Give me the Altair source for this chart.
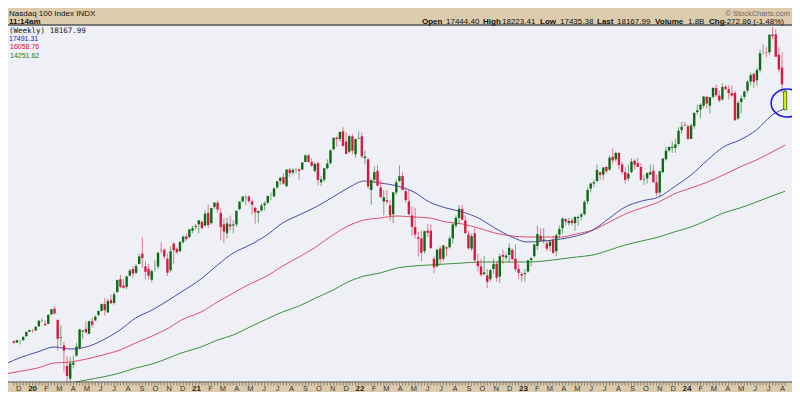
import altair as alt
import pandas as pd

# ---------------- data (weekly OHLC, Nasdaq 100) ----------------
ohlc_2019 = [
    (8370, 8390, 8270, 8310), (8320, 8420, 8300, 8403), (8400, 8420, 8240, 8400),
    (8410, 8560, 8380, 8535), (8560, 8740, 8550, 8735), (8740, 8820, 8730, 8808),
    (8800, 8850, 8700, 8793),
]
ohlc_2020 = [
    (8790, 8950, 8770, 8933), (8950, 9180, 8940, 9174), (9180, 9260, 9100, 9188), (9050, 9190, 8980, 8992),
    (9050, 9420, 9030, 9401), (9420, 9620, 9400, 9623), (9640, 9736, 9480, 9447), (9200, 9230, 8000, 8462),
    (8500, 9000, 8200, 8530), (8200, 8350, 7150, 7995), (7400, 7800, 6771, 7000), (6900, 7750, 6780, 7502),
    (7450, 7800, 7300, 7528), (7800, 8300, 7760, 8153), (8100, 8850, 8050, 8833), (8750, 8800, 8450, 8788),
    (8850, 9150, 8690, 8718), (8660, 9170, 8660, 9152), (9150, 9300, 8900, 9014), (9180, 9390, 9170, 9325),
    (9400, 9560, 9340, 9555), (9560, 9850, 9540, 9824), (9830, 10060, 9370, 9589), (9500, 10050, 9470, 9946),
    (9980, 10190, 9850, 9850), (9870, 10300, 9800, 10208), (10300, 10790, 10260, 10768), (10800, 10970, 10450, 10503),
    (10550, 10800, 10430, 10461), (10500, 10940, 10400, 10905), (10940, 11200, 10900, 11139), (11200, 11300, 10850, 11019),
    (11050, 11400, 11000, 11311), (11400, 11800, 11380, 11695), (11800, 12439, 11250, 11626), (11300, 11500, 10800, 11088),
    (11200, 11400, 10800, 10937), (10780, 11180, 10677, 11117), (11250, 11550, 11100, 11255), (11300, 11900, 11200, 11829),
    (11950, 12250, 11800, 11933), (11950, 12000, 11600, 11687), (11600, 11800, 10930, 11053), (11150, 12080, 11070, 11895),
    (12200, 12200, 11400, 11937), (11990, 12050, 11800, 11854), (11900, 12300, 11850, 12258), (12250, 12528, 12200, 12465),
    (12480, 12590, 12300, 12378), (12450, 12760, 12400, 12755), (12700, 12900, 12600, 12804), (12850, 12960, 12750, 12888),
]
ohlc_2021 = [
    (12950, 13130, 12600, 13105), (13050, 13100, 12760, 12803), (12900, 13500, 12880, 13366), (13400, 13728, 12800, 12925),
    (13000, 13600, 12950, 13592), (13630, 13800, 13550, 13807), (13800, 13880, 13400, 13530), (13400, 13580, 12330, 12842),
    (12950, 13200, 12210, 12668), (12600, 13200, 12400, 12990), (12950, 13300, 12700, 12870), (12900, 13100, 12600, 12943),
    (12950, 13500, 12850, 13480), (13550, 13850, 13500, 13845), (13850, 14050, 13800, 14041), (14000, 14100, 13700, 14016),
    (14040, 14100, 13800, 13860), (13850, 13900, 13350, 13720), (13600, 13650, 12980, 13430), (13400, 13500, 13000, 13470),
    (13500, 13780, 13450, 13687), (13700, 13850, 13500, 13774), (13800, 14050, 13750, 14069), (14100, 14200, 13900, 14100),
    (14050, 14400, 14000, 14360), (14400, 14650, 14350, 14640), (14650, 14800, 14500, 14780), (14800, 14950, 14500, 14550),
    (14450, 15120, 14400, 15100), (15100, 15150, 14800, 14960), (14980, 15150, 14900, 15090), (15100, 15150, 14950, 15110),
    (15100, 15170, 14700, 15039), (15100, 15400, 15080, 15374), (15400, 15700, 15380, 15653), (15660, 15700, 15400, 15390),
    (15400, 15550, 15200, 15250), (15050, 15400, 14980, 15317), (15350, 15400, 14480, 14689), (14600, 14850, 14450, 14715),
    (14700, 15160, 14620, 15152), (15150, 15500, 15100, 15335), (15350, 15900, 15300, 15850), (15900, 16350, 15850, 16345),
    (16350, 16400, 16000, 16300), (16300, 16600, 16200, 16573), (16600, 16765, 16000, 16025), (16200, 16550, 15750, 15712),
    (15800, 16450, 15750, 16410), (16400, 16500, 15700, 15840), (15700, 16300, 15560, 16300), (16300, 16600, 16300, 16320),
]
ohlc_2022 = [
    (16400, 16550, 15550, 15616), (15550, 15850, 15300, 15612), (15500, 15560, 14330, 14438), (14300, 14740, 13724, 14680),
    (14700, 15220, 14600, 14997), (15050, 15280, 14500, 14464), (14400, 14700, 14000, 14017), (13850, 14300, 13300, 14010),
    (13900, 14300, 13750, 13838), (13700, 13900, 13100, 13301), (13350, 14220, 13000, 14207), (14200, 14700, 14100, 14600),
    (14650, 15265, 14600, 14840), (14850, 15000, 14300, 14300), (14250, 14400, 13800, 13900), (13850, 14300, 13300, 13350),
    (13300, 13650, 12500, 12855), (12850, 13600, 12400, 12550), (12450, 12650, 11690, 12386), (12400, 12700, 11500, 11835),
    (11900, 12700, 11800, 12681), (12700, 12950, 12450, 12617), (12700, 12950, 12000, 12016), (11600, 11700, 11037, 11265),
    (11300, 12000, 11300, 11950), (12000, 12100, 11400, 11580), (11600, 12150, 11500, 12125), (12050, 12100, 11700, 12000),
    (12050, 12500, 12000, 12397), (12400, 12990, 12200, 12947), (12900, 13300, 12800, 13208), (13200, 13700, 13000, 13560),
    (13550, 13720, 13100, 13130), (13100, 13300, 12600, 12602), (12550, 12700, 11950, 12013), (12000, 12600, 11900, 12489),
    (12600, 12800, 11500, 11543), (11500, 11800, 11100, 11311), (11300, 11600, 10900, 10971), (11000, 11700, 10950, 11067),
    (10950, 11200, 10440, 10692), (10800, 11200, 10700, 11154), (11200, 11600, 11000, 11400), (11400, 11500, 10700, 10857),
    (10900, 11800, 10650, 11700), (11750, 11950, 11400, 11677), (11650, 11850, 11550, 11726), (11750, 12200, 11450, 12031),
    (11950, 12000, 11550, 11583), (11600, 12170, 11100, 11190), (11200, 11400, 10800, 11050), (11000, 11100, 10700, 10939),
]
ohlc_2023 = [
    (11000, 11200, 10700, 11040), (11100, 11550, 11050, 11541), (11550, 11650, 11300, 11620), (11700, 12150, 11650, 12166),
    (12100, 12900, 11950, 12573), (12500, 12800, 12300, 12304), (12300, 12800, 12200, 12358), (12200, 12300, 11900, 11995),
    (12100, 12300, 11900, 12278), (12350, 12500, 11800, 11830), (11900, 12600, 11700, 12520), (12550, 12900, 12400, 12767),
    (12800, 13200, 12600, 13181), (13150, 13200, 12900, 13062), (13000, 13200, 12900, 13080), (13100, 13200, 12900, 13000),
    (13000, 13250, 12700, 13246), (13200, 13300, 12900, 13240), (13250, 13400, 13100, 13340), (13350, 13900, 13300, 13826),
    (13850, 14400, 13750, 14298), (14350, 14600, 14200, 14547), (14550, 14700, 14400, 14603), (14650, 15290, 14600, 15083),
    (15000, 15000, 14700, 14890), (14900, 15200, 14700, 15179), (15200, 15250, 14950, 15035), (15100, 15650, 15050, 15565),
    (15600, 15932, 15300, 15457), (15500, 15800, 15400, 15750), (15750, 15800, 15100, 15275), (15300, 15400, 14900, 14995),
    (15000, 15200, 14550, 14694), (14750, 15300, 14650, 14942), (15000, 15530, 14950, 15413), (15450, 15500, 15100, 15290),
    (15350, 15570, 15200, 15200), (15200, 15350, 14650, 14700), (14700, 14900, 14500, 14715), (14750, 15000, 14550, 14960),
    (14900, 15300, 14900, 15000), (15050, 15300, 14600, 14598), (14600, 14900, 14060, 14180), (14200, 15050, 14050, 15033),
    (15000, 15550, 14950, 15530), (15500, 16000, 15450, 15840), (15850, 16000, 15800, 15990), (15950, 16200, 15750, 15992),
    (15950, 16300, 15750, 16085), (16100, 16770, 16050, 16623), (16650, 16970, 16500, 16777), (16850, 16970, 16800, 16825),
]
ohlc_2024 = [
    (16800, 16850, 16250, 16305), (16300, 16900, 16300, 16832), (16800, 17350, 16700, 17314), (17350, 17650, 17250, 17421),
    (17450, 17700, 17100, 17642), (17600, 17990, 17500, 17962), (17950, 18000, 17500, 17686), (17600, 17950, 17300, 17937),
    (17950, 18320, 17900, 18302), (18300, 18420, 17950, 18019), (18000, 18200, 17750, 17808), (17850, 18470, 17800, 18339),
    (18350, 18400, 18200, 18255), (18250, 18400, 17850, 18097), (18100, 18400, 17950, 18003), (18100, 18200, 17000, 17037),
    (17100, 17800, 17050, 17718), (17750, 18000, 17300, 17890), (17950, 18200, 17850, 18161), (18200, 18600, 18100, 18546),
    (18550, 18900, 18400, 18808), (18850, 18900, 18300, 18537), (18600, 19100, 18400, 19000), (19000, 19800, 18900, 19660),
    (19700, 20000, 19600, 19700), (19700, 19900, 19500, 19683), (19700, 20400, 19600, 20391), (20400, 20690, 20200, 20331),
    (20400, 20600, 19600, 19523), (19600, 19900, 18900, 19023), (19100, 19700, 18100, 18440),
    (17444.40, 18223.41, 17435.38, 18167.99),
]

# moving averages (sample dates and values)
ma_dates = [
    "2019-11-01", "2019-12-08", "2020-01-12", "2020-02-18", "2020-03-26", "2020-04-30", "2020-06-06",
    "2020-07-14", "2020-08-18", "2020-09-24", "2020-10-31", "2020-11-28", "2021-01-11", "2021-02-17",
    "2021-03-24", "2021-04-30", "2021-06-07", "2021-07-12", "2021-08-18", "2021-09-24", "2021-10-29",
    "2021-12-05", "2022-01-11", "2022-02-15", "2022-03-25", "2022-05-01", "2022-06-05", "2022-07-12",
    "2022-08-18", "2022-09-22", "2022-10-29", "2022-12-06", "2023-01-09", "2023-02-16", "2023-03-25",
    "2023-04-29", "2023-06-05", "2023-07-12", "2023-08-16", "2023-09-22", "2023-10-30", "2023-12-03",
    "2024-01-10", "2024-02-16", "2024-03-22", "2024-04-28", "2024-06-04", "2024-07-09", "2024-08-07",
]
ma_blue = [
    7474, 7749, 7945, 8141, 8062, 8141, 8415, 8808, 9278, 9592, 9984, 10298, 10808, 11357,
    11827, 12141, 12533, 13004, 13317, 13631, 13984, 14376, 14651, 14572, 14455, 14219, 13827, 13592,
    13435, 13200, 12808, 12455, 12259, 12298, 12376, 12494, 12729, 13199, 13631, 13866, 14023, 14415,
    14886, 15474, 15984, 16259, 16651, 17239, 17491.31,
]
ma_red = [
    7082, 7200, 7317, 7513, 7553, 7670, 7827, 8023, 8298, 8572, 8886, 9200, 9513, 9906,
    10259, 10611, 10925, 11317, 11670, 12062, 12494, 12886, 13121, 13200, 13278, 13239, 13200, 13043,
    12964, 12808, 12611, 12494, 12455, 12455, 12455, 12572, 12729, 13043, 13357, 13592, 13827, 14141,
    14376, 14611, 14886, 15200, 15474, 15788, 16058.76,
]
ma_green = [
    None, None, 6572, 6611, 6729, 6847, 6964, 7121, 7317, 7474, 7710, 7906, 8141, 8415,
    8611, 8925, 9239, 9513, 9749, 10062, 10337, 10690, 10925, 11043, 11239, 11317, 11357, 11396,
    11435, 11474, 11474, 11474, 11474, 11513, 11592, 11670, 11749, 11945, 12141, 12298, 12455, 12651,
    12847, 13121, 13396, 13592, 13827, 14062, 14251.62,
]

month_labels = [
    "D",
    "20", "F", "M", "A", "M", "J", "J", "A", "S", "O", "N", "D",
    "21", "F", "M", "A", "M", "J", "J", "A", "S", "O", "N", "D",
    "22", "F", "M", "A", "M", "J", "J", "A", "S", "O", "N", "D",
    "23", "F", "M", "A", "M", "J", "J", "A", "S", "O", "N", "D",
    "24", "F", "M", "A", "M", "J", "J", "A",
]

header_items = [
    ("Open", True), ("17444.40", False), ("High", True), ("18223.41", False),
    ("Low", True), ("17435.38", False), ("Last", True), ("18167.99", False),
    ("Volume", True), ("1.8B", False), ("Chg", True), ("-272.86 (-1.48%)", False),
]
header_x = [414, 438, 475, 494, 532, 552, 589, 609, 647, 680, 701, 716]

legend_values = ["17491.31", "16058.76", "14251.62"]

# ---------------- layout / geometry ----------------
W, H = 784, 384
BLUE, RED, GREEN = "#4a4aa8", "#e0506e", "#3c8f3c"
UP, DOWN = "#0b6b12", "#d81840"
TAN = "#dccbac"


def ms(ts):
    return int(pd.Timestamp(ts).value // 10**6)


origin = pd.Timestamp("2020-01-01")
px_per_day = 0.4572 * 0.9924
x_at_origin = 20 * 0.9924
t_start = origin + pd.Timedelta(days=-x_at_origin / px_per_day)
t_end = origin + pd.Timedelta(days=(W - x_at_origin) / px_per_day)
xscale = alt.Scale(domain=[ms(t_start), ms(t_end)], nice=False)
yscale = alt.Scale(domain=[6376, 21435], nice=False, zero=False)

rows = ohlc_2019 + ohlc_2020 + ohlc_2021 + ohlc_2022 + ohlc_2023 + ohlc_2024
mondays = pd.date_range("2019-11-18", periods=len(rows), freq="7D")
df = pd.DataFrame(rows, columns=["open", "high", "low", "close"])
df["t"] = [ms(d + pd.Timedelta(days=2)) for d in mondays]
df["dir"] = ["up" if c >= o else "down" for o, c in zip(df.open, df.close)]
hist = df.iloc[:-1]
last = df.iloc[-1:]

X = alt.X("t:T", scale=xscale, axis=None)
col = alt.Color("dir:N", scale=alt.Scale(domain=["up", "down"], range=[UP, DOWN]), legend=None)

wicks = alt.Chart(hist).mark_rule(strokeWidth=1, opacity=0.55).encode(
    x=X, y=alt.Y("low:Q", scale=yscale, axis=None), y2="high:Q", color=col)
bodies = alt.Chart(hist).mark_bar(size=2.4).encode(
    x=X, y=alt.Y("open:Q", scale=yscale, axis=None), y2="close:Q", color=col)

last_wick = alt.Chart(last).mark_rule(strokeWidth=1, color=UP).encode(
    x=X, y=alt.Y("low:Q", scale=yscale, axis=None), y2="high:Q")
last_body = alt.Chart(last).mark_bar(size=3, fill="#f4f000", stroke=UP, strokeWidth=0.8).encode(
    x=X, y=alt.Y("open:Q", scale=yscale, axis=None), y2="close:Q")

ma_df = pd.DataFrame({"t": [ms(d) for d in ma_dates], "blue": ma_blue, "red": ma_red, "green": ma_green})
ma_layers = []
for name, colr in [("green", GREEN), ("red", RED), ("blue", BLUE)]:
    sub = ma_df[["t", name]].dropna()
    ma_layers.append(
        alt.Chart(sub).mark_line(color=colr, strokeWidth=1, clip=True, interpolate="monotone").encode(
            x=X, y=alt.Y(f"{name}:Q", scale=yscale, axis=None)))

circle_df = pd.DataFrame({"t": [df.t.iloc[-1]], "p": [17710]})
ellipse = alt.Chart(circle_df).mark_point(
    shape="M-1,0A1,0.875 0 1,0 1,0A1,0.875 0 1,0 -1,0Z", size=1024, filled=False,
    stroke="#1a1ae6", strokeWidth=1.6, opacity=1, xOffset=2).encode(
    x=X, y=alt.Y("p:Q", scale=yscale, axis=None))

one = pd.DataFrame({"a": [0]})

def band(y0, y1):
    return alt.Chart(one).mark_rect(color=TAN).encode(
        x=alt.value(0), x2=alt.value(W), y=alt.value(y0), y2=alt.value(y1))

def hline(y, w=1.0, c="#5a5a5a"):
    return alt.Chart(one).mark_rule(color=c, strokeWidth=w).encode(
        x=alt.value(0), x2=alt.value(W), y=alt.value(y))

def label(text, x, y, size=8, bold=False, color="#111", align="left", font="Liberation Sans"):
    return alt.Chart(one).mark_text(
        text=text, align=align, baseline="alphabetic", fontSize=size,
        fontWeight="bold" if bold else "normal", color=color, font=font).encode(
        x=alt.value(x), y=alt.value(y))

# header (two lines)
header = [band(0, 17), hline(17, 1.5, "#555")]
header.append(label("Nasdaq 100 Index INDX", 1, 7.5, size=8))
header.append(label("11:14am", 1, 15.5, size=8, bold=True))
header.append(label("© StockCharts.com", 782, 7.5, size=7.5, color="#6a6a6a", align="right"))
for (txt, bold), hx in zip(header_items, header_x):
    header.append(label(txt, hx, 15.5, size=8, bold=bold))

# legend in plot
legend = [
    label("(Weekly) 18167.99", 1, 25, size=7.5, font="DejaVu Sans Mono"),
    label(legend_values[0], 1, 33, size=7, color="#2020b0"),
    label(legend_values[1], 2, 41, size=7, color="#d01040"),
    label(legend_values[2], 2, 50, size=7, color="#208020"),
]

# footer / time axis
month_df = pd.DataFrame({
    "t": [ms(d) for d in pd.date_range("2019-12-01", periods=len(month_labels), freq="MS")],
    "lab": month_labels,
})
month_df["year"] = [len(s) == 2 for s in month_labels]
FT = 374
footer = [band(FT, H), hline(FT, 1.2, "#4a4a4a")]
ticks = alt.Chart(df).mark_rule(color="#6a6a6a", strokeWidth=0.8).encode(
    x=X, y=alt.value(FT + 1), y2=alt.value(FT + 3.5))
footer.append(ticks)
footer.append(alt.Chart(month_df[~month_df.year]).mark_text(
    fontSize=7.5, color="#333", baseline="alphabetic", font="Liberation Sans").encode(
    x=X, y=alt.value(H - 1.5), text="lab:N"))
footer.append(alt.Chart(month_df[month_df.year]).mark_text(
    fontSize=8, fontWeight="bold", color="#222", baseline="alphabetic", font="Liberation Sans").encode(
    x=X, y=alt.value(H - 1.5), text="lab:N"))

chart = alt.layer(
    *ma_layers, wicks, bodies, last_wick, last_body, ellipse, *legend, *header, *footer
).properties(
    width=W, height=H, padding=0, autosize=alt.AutoSizeParams(type="none"),
    background="#efeff6",
).configure_view(strokeWidth=0, fill="#efeff6")

chart.save("out.html", embed_options={"renderer": "svg", "actions": False})
